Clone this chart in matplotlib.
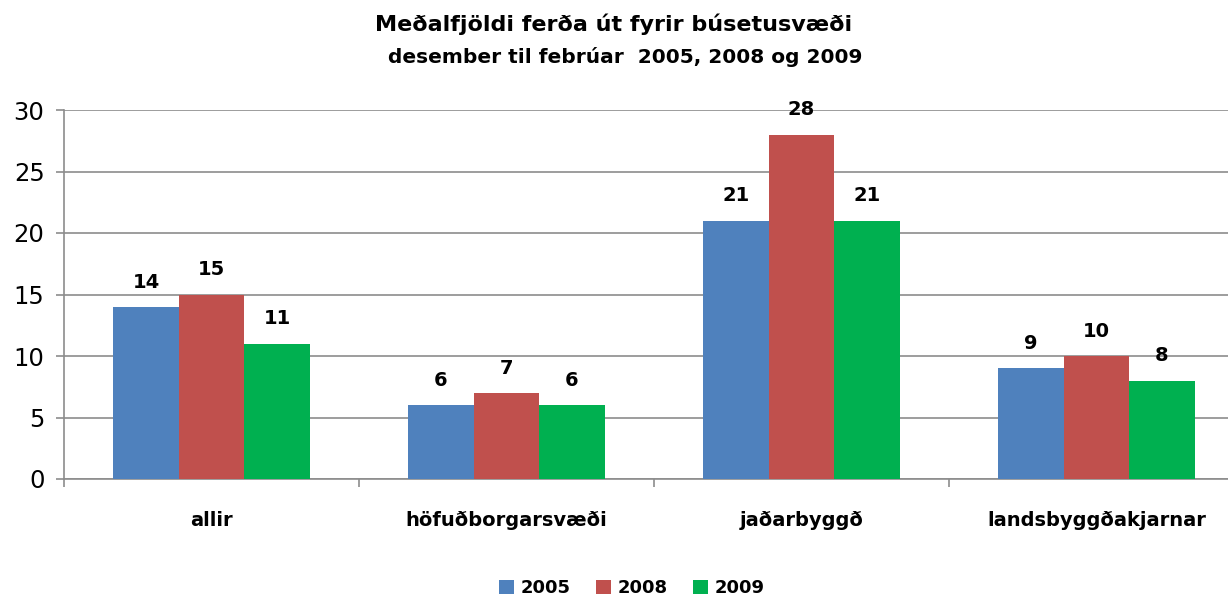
import numpy as np
import matplotlib
matplotlib.use('Agg')
import matplotlib.pyplot as plt

plt.rcParams['font.family'] = ['DejaVu Sans']

# data
categories = ['allir', 'höfuðborgarsvæði', 'jaðarbyggð', 'landsbyggðakjarnar']
years = ['2005', '2008', '2009']
v2005 = [14, 6, 21, 9]
v2008 = [15, 7, 28, 10]
v2009 = [11, 6, 21, 8]
colors = ['#4F81BD', '#C0504D', '#00B050']

fig = plt.figure(figsize=(12.28, 5.99), dpi=100)
# axes spans past right edge like the original (clipped)
ax = fig.add_axes([64 / 1228, 1 - 479 / 599, 1180 / 1228, 369 / 599])

x = np.arange(len(categories))
w = 0.222
for i, (vals, c, yr) in enumerate(zip([v2005, v2008, v2009], colors, years)):
    bars = ax.bar(x + (i - 1) * w, vals, w, color=c, label=yr, zorder=3)
    for b, v in zip(bars, vals):
        ax.annotate(str(v), (b.get_x() + b.get_width() / 2, v), xytext=(0, 11),
                    textcoords='offset points', ha='center', va='bottom',
                    fontsize=14, fontweight='bold', zorder=4)

ax.set_xlim(-0.5, len(categories) - 0.5)
ax.set_ylim(0, 30)
ax.set_yticks(range(0, 31, 5))
ax.yaxis.grid(True, color='#8c8c8c', linewidth=1.2, zorder=0)
ax.set_axisbelow(True)

ax.set_xticks(x)
ax.set_xticklabels(categories, fontsize=14, fontweight='bold')
ax.set_xticks(np.arange(-0.5, len(categories)), minor=True)
ax.tick_params(axis='x', which='major', length=0, pad=23)
ax.tick_params(axis='x', which='minor', length=6, color='#8c8c8c', width=1.2)
ax.tick_params(axis='y', labelsize=17.5, length=6, color='#8c8c8c', width=1.2, pad=8)

for s in ['top', 'right']:
    ax.spines[s].set_visible(False)
for s in ['left', 'bottom']:
    ax.spines[s].set_color('#8c8c8c')
    ax.spines[s].set_linewidth(1.2)

fig.text(614 / 1228, 1 - 24 / 599, 'Meðalfjöldi ferða út fyrir búsetusvæði', ha='center', va='center',
         fontsize=16, fontweight='bold')
fig.text(625 / 1228, 1 - 57 / 599, 'desember til febrúar  2005, 2008 og 2009', ha='center', va='center',
         fontsize=14.5, fontweight='bold')

fig.legend(loc='center', bbox_to_anchor=(632 / 1228, 1 - 588 / 599), ncol=3, frameon=False,
           prop={'size': 13, 'weight': 'bold'}, handlelength=0.8, handleheight=0.8,
           handletextpad=0.4, columnspacing=1.4)

fig.savefig('out.png', dpi=100)
